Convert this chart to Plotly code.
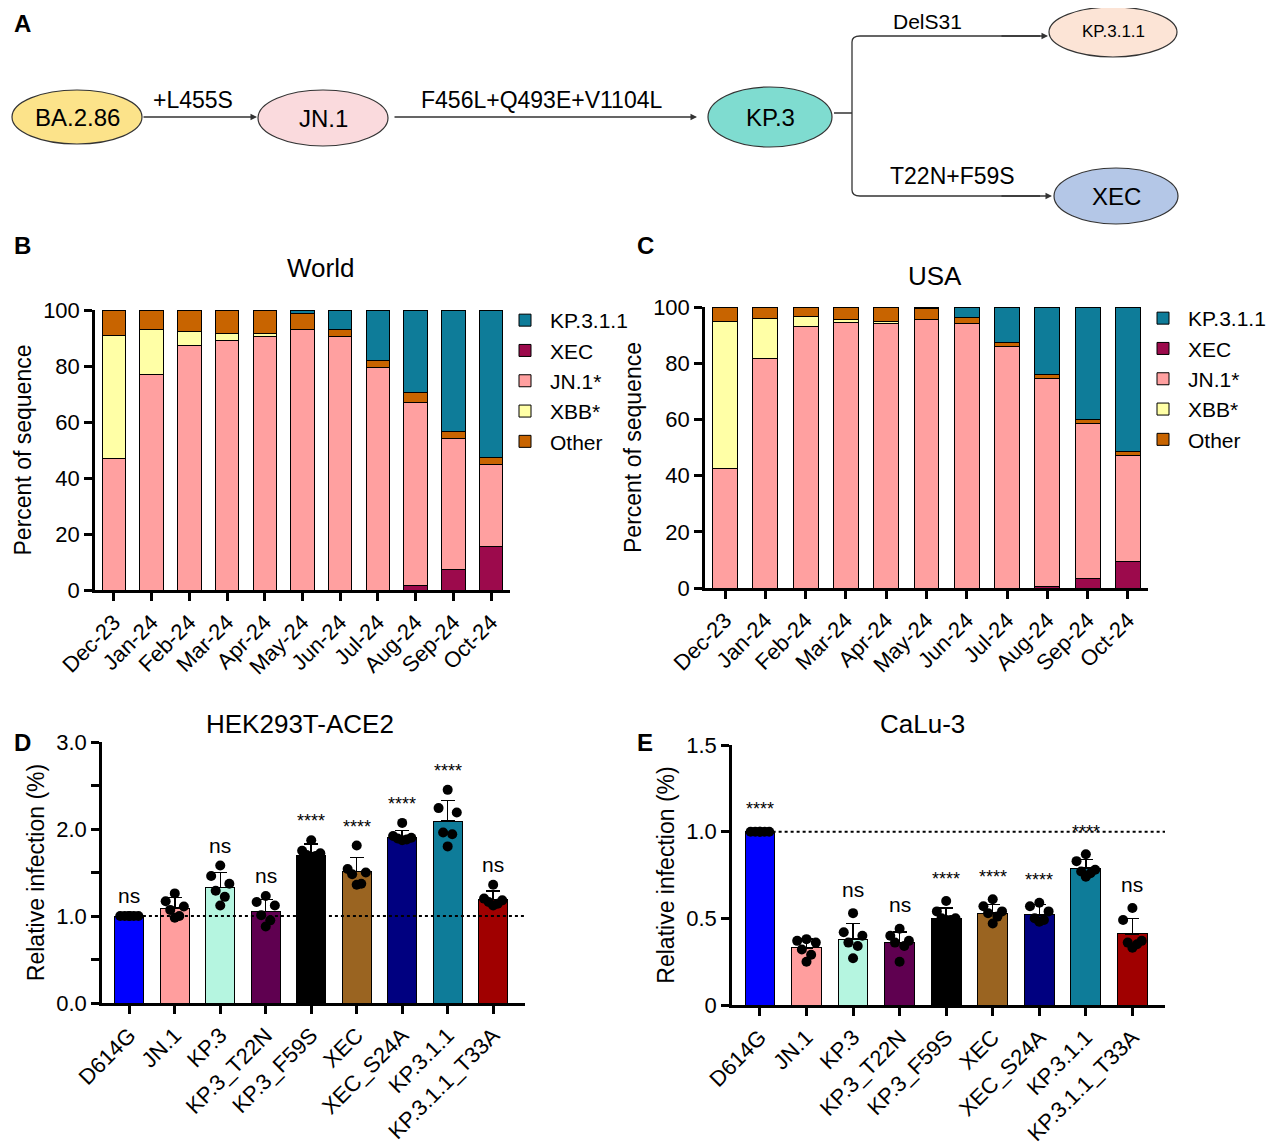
import plotly.graph_objects as go

W, H = 1280, 1145
OFF = 8  # page body offset
FONT = "Liberation Sans, Arial"

months = ["Dec-23", "Jan-24", "Feb-24", "Mar-24", "Apr-24", "May-24", "Jun-24", "Jul-24", "Aug-24", "Sep-24", "Oct-24"]

# World (panel B)
world_xec = [0, 0, 0, 0, 0, 0, 0, 0, 1.5, 7.5, 15.5]
world_jn1 = [47, 77, 87.5, 89, 90.5, 93, 90.5, 79.5, 65.5, 46.5, 29.5]
world_xbb = [44, 16, 5, 2.5, 1, 0, 0, 0, 0, 0, 0]
world_other = [9, 7, 7.5, 8.5, 8.5, 5.7, 2.5, 2.5, 3.5, 2.5, 2.5]
world_kp311 = [0, 0, 0, 0, 0, 1.3, 7, 18, 29.5, 43.5, 52.5]

# USA (panel C)
usa_xec = [0, 0, 0, 0, 0, 0, 0, 0, 0.5, 3.5, 9.5]
usa_jn1 = [42.5, 81.5, 93, 94.5, 94, 95.5, 94, 86, 74, 55, 37.5]
usa_xbb = [52.5, 14.5, 3.5, 1, 1, 0, 0, 0, 0, 0, 0]
usa_other = [5, 4, 3.5, 4.5, 5, 4, 2.3, 1.5, 1.5, 1.3, 1.7]
usa_kp311 = [0, 0, 0, 0, 0, 0.5, 3.7, 12.5, 24, 40.2, 51.3]

variants = ["D614G", "JN.1", "KP.3", "KP.3_T22N", "KP.3_F59S", "XEC", "XEC_S24A", "KP.3.1.1", "KP.3.1.1_T33A"]
variant_colors = ["#0000FF", "#FF9E9E", "#B5F5E0", "#5F0050", "#000000", "#9A6421", "#000080", "#0E7C99", "#A00000"]

# HEK293T-ACE2 (panel D)
hek_mean = [1.0, 1.09, 1.33, 1.05, 1.70, 1.51, 1.90, 2.09, 1.19]
hek_err_top = [1.0, 1.21, 1.50, 1.19, 1.83, 1.67, 1.98, 2.33, 1.29]
hek_dots = [
    [1.0, 1.0, 1.0, 1.0, 1.0, 1.0],
    [1.26, 1.17, 1.11, 1.07, 1.0, 0.98],
    [1.58, 1.46, 1.37, 1.29, 1.22, 1.12],
    [1.23, 1.16, 1.12, 1.01, 0.95, 0.88],
    [1.87, 1.75, 1.72, 1.70, 1.69, 1.68],
    [1.81, 1.54, 1.50, 1.48, 1.37, 1.36],
    [2.07, 1.92, 1.90, 1.89, 1.88, 1.87],
    [2.45, 2.24, 2.19, 1.96, 1.94, 1.80],
    [1.36, 1.20, 1.18, 1.16, 1.14, 1.12],
]
hek_sig = ["ns", "", "ns", "ns", "****", "****", "****", "****", "ns"]

# CaLu-3 (panel E)
calu_mean = [1.0, 0.33, 0.38, 0.36, 0.50, 0.53, 0.52, 0.79, 0.41]
calu_err_top = [1.0, 0.38, 0.47, 0.42, 0.56, 0.58, 0.58, 0.84, 0.50]
calu_dots = [
    [1.0, 1.0, 1.0, 1.0, 1.0, 1.0],
    [0.38, 0.37, 0.36, 0.32, 0.29, 0.25],
    [0.53, 0.42, 0.40, 0.36, 0.34, 0.27],
    [0.44, 0.40, 0.37, 0.36, 0.34, 0.25],
    [0.60, 0.54, 0.50, 0.50, 0.49, 0.49],
    [0.61, 0.57, 0.54, 0.53, 0.51, 0.47],
    [0.59, 0.57, 0.54, 0.50, 0.49, 0.48],
    [0.87, 0.83, 0.78, 0.77, 0.76, 0.74],
    [0.56, 0.49, 0.37, 0.36, 0.35, 0.33],
]
calu_sig = ["****", "", "ns", "ns", "****", "****", "****", "****", "ns"]

jitter = [0.0, -0.2, 0.2, -0.1, 0.1, 0.0]

series_colors = {"KP.3.1.1": "#0E7C99", "XEC": "#9C0A4C", "JN.1*": "#FFA0A0", "XBB*": "#FFFFA6", "Other": "#C86400"}
legend_rank = {"KP.3.1.1": 1, "XEC": 2, "JN.1*": 3, "XBB*": 4, "Other": 5}


def px_x(p):
    return (p - OFF) / W


def px_y(p):
    return 1 - (p - OFF) / H


fig = go.Figure()

# stacked bars B and C
for (xa, ya, leg, data) in [
    ("x", "y", "legend", [("XEC", world_xec), ("JN.1*", world_jn1), ("XBB*", world_xbb), ("Other", world_other), ("KP.3.1.1", world_kp311)]),
    ("x2", "y2", "legend2", [("XEC", usa_xec), ("JN.1*", usa_jn1), ("XBB*", usa_xbb), ("Other", usa_other), ("KP.3.1.1", usa_kp311)]),
]:
    for name, vals in data:
        fig.add_trace(go.Bar(x=months, y=vals, name=name, xaxis=xa, yaxis=ya, legend=leg,
                             legendrank=legend_rank[name],
                             marker=dict(color=series_colors[name], line=dict(color="black", width=1)),
                             width=0.62))

# bar+dot panels D and E
for (xa, ya, means, tops, dots, sigs, pad) in [
    ("x3", "y3", hek_mean, hek_err_top, hek_dots, hek_sig, 0.08),
    ("x4", "y4", calu_mean, calu_err_top, calu_dots, calu_sig, 0.06),
]:
    xs = list(range(len(variants)))
    fig.add_trace(go.Bar(x=xs, y=means, xaxis=xa, yaxis=ya, showlegend=False, width=0.64,
                         marker=dict(color=variant_colors, line=dict(color="black", width=1)),
                         error_y=dict(type="data", symmetric=False,
                                      array=[t - m for t, m in zip(tops, means)],
                                      arrayminus=[0] * len(means), color="black", thickness=1.5, width=7)))
    dx, dy = [], []
    for i, d in enumerate(dots):
        for j, v in enumerate(d):
            dx.append(i + jitter[j])
            dy.append(v)
    fig.add_trace(go.Scatter(x=dx, y=dy, mode="markers", xaxis=xa, yaxis=ya, showlegend=False,
                             marker=dict(color="black", size=10)))
    for i, s in enumerate(sigs):
        if not s:
            continue
        top = max(tops[i], max(dots[i]))
        fig.add_annotation(x=i, y=top + pad, xref=xa, yref=ya, text=s, showarrow=False, yanchor="bottom",
                           xanchor="center", font=dict(size=18 if s != "ns" else 21, color="black", family=FONT))
    fig.add_shape(type="line", xref=xa + " domain", yref=ya, x0=0.04 if xa == "x3" else 0.08, x1=1, y0=1, y1=1,
                  line=dict(color="black", width=2, dash="dot"))

axis_common = dict(showline=True, linecolor="black", linewidth=2.5, ticks="outside", tickwidth=2.5,
                   ticklen=8, tickcolor="black", showgrid=False, zeroline=False, automargin=False,
                   tickfont=dict(size=22, color="black", family=FONT))

fig.update_layout(
    width=W, height=H, margin=dict(l=0, r=0, t=0, b=0, autoexpand=False),
    plot_bgcolor="white", paper_bgcolor="white",
    barmode="stack", bargap=0.35,
    font=dict(family=FONT, color="black"),
    xaxis=dict(domain=[px_x(95), px_x(510)], anchor="y", tickangle=-45, **axis_common),
    yaxis=dict(domain=[px_y(590), px_y(310)], anchor="x", range=[0, 100], tickvals=[0, 20, 40, 60, 80, 100],
               title=dict(text="Percent of sequence", font=dict(size=23), standoff=6), **axis_common),
    xaxis2=dict(domain=[px_x(705), px_x(1148)], anchor="y2", tickangle=-45, **axis_common),
    yaxis2=dict(domain=[px_y(588), px_y(307)], anchor="x2", range=[0, 100], tickvals=[0, 20, 40, 60, 80, 100],
                title=dict(text="Percent of sequence", font=dict(size=23), standoff=6), **axis_common),
    xaxis3=dict(domain=[px_x(102), px_x(525)], anchor="y3", range=[-0.6, 8.7], tickangle=-45,
                tickvals=list(range(9)), ticktext=variants, **axis_common),
    yaxis3=dict(domain=[px_y(1003), px_y(742)], anchor="x3", range=[0, 3],
                tickvals=[0, 0.5, 1, 1.5, 2, 2.5, 3], ticktext=["0.0", "", "1.0", "", "2.0", "", "3.0"],
                title=dict(text="Relative infection (%)", font=dict(size=23), standoff=6), **axis_common),
    xaxis4=dict(domain=[px_x(732), px_x(1165)], anchor="y4", range=[-0.6, 8.7], tickangle=-45,
                tickvals=list(range(9)), ticktext=variants, **axis_common),
    yaxis4=dict(domain=[px_y(1005), px_y(745)], anchor="x4", range=[0, 1.5],
                tickvals=[0, 0.5, 1, 1.5], ticktext=["0", "0.5", "1.0", "1.5"],
                title=dict(text="Relative infection (%)", font=dict(size=23), standoff=6), **axis_common),
    legend=dict(x=px_x(500), y=px_y(300), xanchor="left", yanchor="top", font=dict(size=21),
                traceorder="normal", itemwidth=40, tracegroupgap=0, bgcolor="rgba(0,0,0,0)"),
    legend2=dict(x=px_x(1138), y=px_y(298), xanchor="left", yanchor="top", font=dict(size=21),
                 traceorder="normal", itemwidth=40, tracegroupgap=0, bgcolor="rgba(0,0,0,0)"),
)

# titles and panel letters
for txt, x, y, size, bold in [
    ("World", 320, 268, 26, False), ("USA", 935, 276, 26, False),
    ("HEK293T-ACE2", 300, 724, 26, False), ("CaLu-3", 922, 724, 26, False),
    ("A", 22, 24, 24, True), ("B", 22, 245, 24, True), ("C", 645, 245, 24, True),
    ("D", 22, 742, 24, True), ("E", 645, 742, 24, True),
]:
    fig.add_annotation(x=px_x(x), y=px_y(y), xref="paper", yref="paper", showarrow=False,
                       xanchor="center", yanchor="middle",
                       text=f"<b>{txt}</b>" if bold else txt, font=dict(size=size, color="black", family=FONT))

# panel A: lineage diagram
nodes = [("BA.2.86", 77, 117, 65, 27, "#FCE38A", 24), ("JN.1", 323, 118, 65, 28, "#FADADD", 24),
         ("KP.3", 770, 117, 62, 30, "#7FDCD0", 24), ("KP.3.1.1", 1113, 32, 64, 25, "#FCE4D6", 17),
         ("XEC", 1116, 196, 62, 28, "#B4C7E7", 24)]
for name, cx, cy, rx, ry, col, fs in nodes:
    fig.add_shape(type="circle", xref="paper", yref="paper", x0=px_x(cx - rx), x1=px_x(cx + rx),
                  y0=px_y(cy + ry), y1=px_y(cy - ry), fillcolor=col, line=dict(color="#333333", width=1.2))
    fig.add_annotation(x=px_x(cx), y=px_y(cy), xref="paper", yref="paper", text=name, showarrow=False,
                       xanchor="center", yanchor="middle", font=dict(size=fs, color="black", family=FONT))

path = f"M{px_x(834)},{px_y(113)} L{px_x(852)},{px_y(113)} L{px_x(852)},{px_y(42)} Q{px_x(852)},{px_y(36)} {px_x(860)},{px_y(36)} L{px_x(1040)},{px_y(36)} " \
       f"M{px_x(852)},{px_y(113)} L{px_x(852)},{px_y(190)} Q{px_x(852)},{px_y(196)} {px_x(860)},{px_y(196)} L{px_x(1040)},{px_y(196)}"
fig.add_shape(type="path", xref="paper", yref="paper", path=path, line=dict(color="#333333", width=1.3))

for (x0, x1, y) in [(142, 257, 117), (393, 697, 117), (1000, 1048, 36), (1000, 1052, 196)]:
    fig.add_annotation(x=px_x(x1), y=px_y(y), ax=x0 - x1, ay=0, xref="paper", yref="paper",
                       axref="pixel", ayref="pixel", text="", showarrow=True, arrowhead=2, arrowsize=1,
                       arrowwidth=1.3, arrowcolor="#333333")

for txt, x, y, fs in [("+L455S", 193, 100, 23), ("F456L+Q493E+V1104L", 541, 100, 23),
                      ("DelS31", 927, 22, 21), ("T22N+F59S", 952, 176, 23)]:
    fig.add_annotation(x=px_x(x), y=px_y(y), xref="paper", yref="paper", text=txt, showarrow=False,
                       xanchor="center", yanchor="middle", font=dict(size=fs, color="black", family=FONT))

fig.write_html("out.html")
